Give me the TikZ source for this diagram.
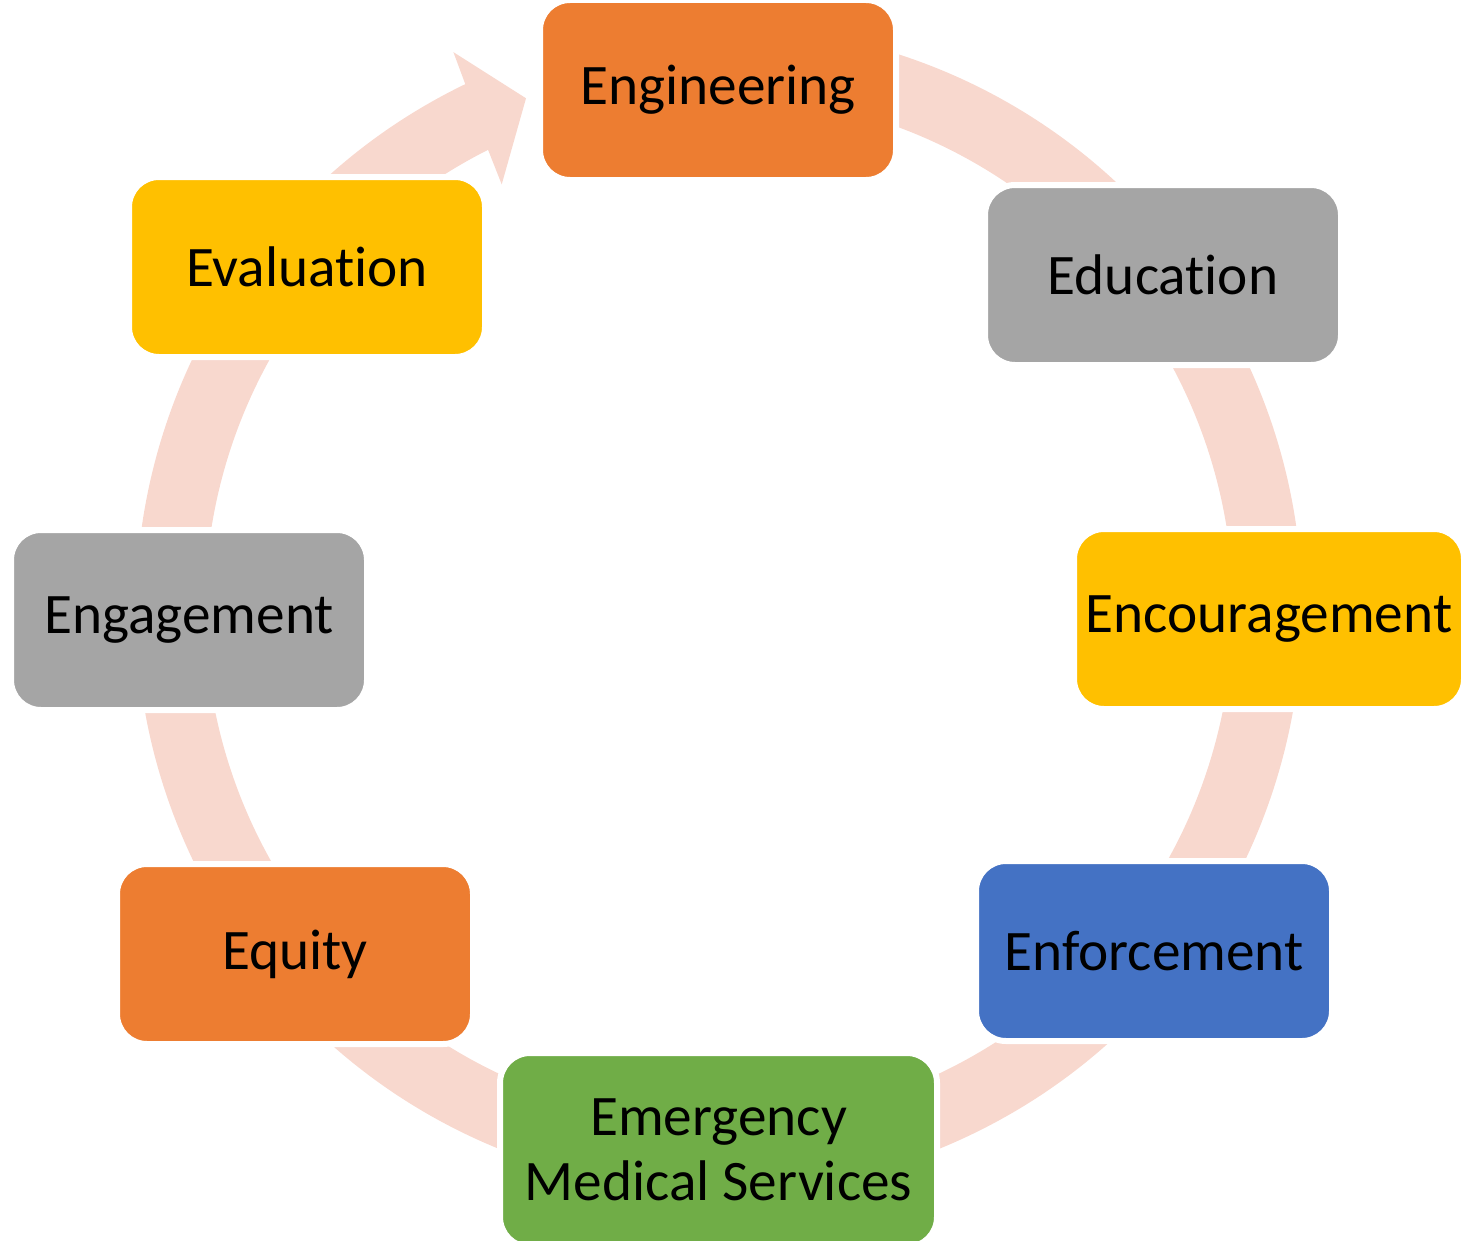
\documentclass[tikz,border=0pt]{standalone}
\usepackage{fontspec}
\setmainfont{Carlito}[Ligatures={NoCommon}]
\usetikzlibrary{positioning}
\definecolor{engorange}{HTML}{ED7D31}
\definecolor{enggray}{HTML}{A5A5A5}
\definecolor{enggold}{HTML}{FFC000}
\definecolor{engblue}{HTML}{4472C4}
\definecolor{enggreen}{HTML}{70AD47}
\definecolor{ringpink}{HTML}{F8D8CE}
\tikzset{cyclebox/.style={rectangle,rounded corners=0.3cm,draw=white,line width=0.06cm,
text=black,minimum width=3.56cm,minimum height=1.80cm,align=center,
font=\fontsize{16.3}{18.5}\selectfont}}

\begin{document}
\begin{tikzpicture}
    \useasboundingbox (0,0) rectangle (14.61,12.40);
    \clip (0,0) rectangle (14.61,12.40);

    % ring, ending in the arrow head left of Engineering
    \begin{scope}[shift={(7.19,6.31)}]
        \fill[ringpink] (115.8:5.83) arc[start angle=115.8,end angle=440,radius=5.83]
            -- (440:5.14) arc[start angle=440,end angle=116.7,radius=5.14]
            -- (117.1:4.77) -- (110.7:5.46) -- (115.5:6.17) -- cycle;
    \end{scope}

    \node[cyclebox,fill=engorange] (boxEng) at (7.18,11.50) {Engineering};
    \node[cyclebox,fill=enggray] (boxEdu) at (11.63,9.65) {Education};
    \node[cyclebox,fill=enggold,minimum width=3.90cm] (boxEnc) at (12.69,6.21) {Encouragement};
    \node[cyclebox,fill=engblue] (boxEnf) at (11.54,2.89) {Enforcement};
    \node[cyclebox,fill=enggreen,minimum width=4.37cm,minimum height=1.94cm] (boxEms) at (7.185,0.90) {Emergency\\Medical Services};
    \node[cyclebox,fill=engorange] (boxEqu) at (2.95,2.86) {Equity};
    \node[cyclebox,fill=enggray] (boxEnga) at (1.89,6.20) {Engagement};
    \node[cyclebox,fill=enggold] (boxEva) at (3.07,9.73) {Evaluation};

\end{tikzpicture}
\end{document}
